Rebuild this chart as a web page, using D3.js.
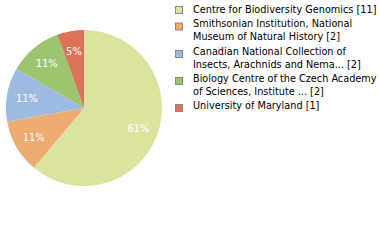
<!DOCTYPE html>
<html>
<head>
<meta charset="utf-8">
<script src="https://cdn.jsdelivr.net/npm/d3@7"></script>
<style>
  body { margin: 0; background: #fff; }
  svg { display: block; }
</style>
</head>
<body>
<script>
// data
var legendLines = [['Centre for Biodiversity Genomics [11]'],
                   ['Smithsonian Institution, National', 'Museum of Natural History [2]'],
                   ['Canadian National Collection of', 'Insects, Arachnids and Nema... [2]'],
                   ['Biology Centre of the Czech Academy', 'of Sciences, Institute ... [2]'],
                   ['University of Maryland [1]']]
var counts = [11, 2, 2, 2, 1]
var pctLabels = ['61%', '11%', '11%', '11%', '5%']
var colours = ['#dce39f', '#eeac70', '#9dbbe1', '#9dc46f', '#dc7358']

var W = 380, H = 240
var cx = 84, cy = 108, r = 78

var svg = d3.select('body').append('svg')
  .attr('width', W).attr('height', H)

var pie = d3.pie().sort(null)
var arc = d3.arc().innerRadius(0).outerRadius(r)
var labelArc = d3.arc().innerRadius(58).outerRadius(58)

var g = svg.append('g').attr('transform', 'translate(' + cx + ',' + cy + ')')

g.selectAll('path')
  .data(pie(counts))
  .enter().append('path')
    .attr('d', arc)
    .attr('fill', function(d, i){ return colours[i] })

g.selectAll('text')
  .data(pie(counts))
  .enter().append('text')
    .attr('transform', function(d){ return 'translate(' + labelArc.centroid(d) + ')' })
    .attr('text-anchor', 'middle')
    .attr('dy', '0.35em')
    .attr('fill', '#fff')
    .style('font', '11px "DejaVu Sans Condensed", "DejaVu Sans", sans-serif')
    .text(function(d, i){ return pctLabels[i] })

// legend
var boxY = [6.5, 23, 50.5, 77.5, 104.5]
var textY = [12.5, 27, 54.5, 81.5, 109]
var leg = svg.append('g')
leg.selectAll('rect')
  .data(counts)
  .enter().append('rect')
    .attr('x', 175.5).attr('y', function(d, i){ return boxY[i] })
    .attr('width', 7).attr('height', 7)
    .attr('fill', function(d, i){ return colours[i] })
    .attr('stroke', '#888')

legendLines.forEach(function(lines, i){
  var t = leg.append('text')
    .attr('x', 193)
    .attr('y', textY[i])
    .attr('fill', '#000')
    .style('font', '10.8px "DejaVu Sans Condensed", "DejaVu Sans", sans-serif')
  lines.forEach(function(s, j){
    t.append('tspan').attr('x', 193).attr('dy', j ? 13 : 0).text(s)
  })
})
</script>
</body>
</html>
